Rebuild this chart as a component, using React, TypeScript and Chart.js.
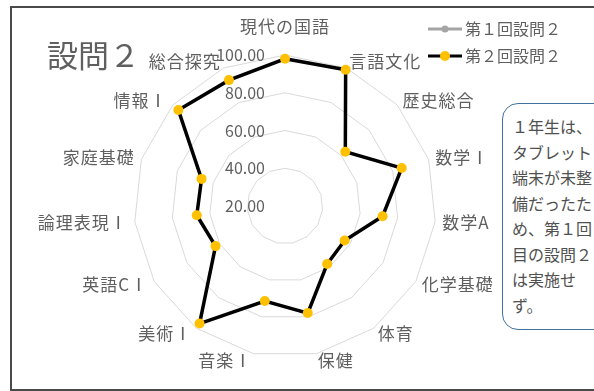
import React, { useEffect, useRef } from "react";
import { Chart, registerables } from "chart.js";

Chart.register(...registerables);

const FONT = '"Noto Sans CJK JP", "Noto Sans", sans-serif';

const categories = [
  "現代の国語",
  "言語文化",
  "歴史総合",
  "数学Ⅰ",
  "数学A",
  "化学基礎",
  "体育",
  "保健",
  "音楽Ⅰ",
  "美術Ⅰ",
  "英語CⅠ",
  "論理表現Ⅰ",
  "家庭基礎",
  "情報Ⅰ",
  "総合探究",
];

const series1Name = "第１回設問２";
const series2Name = "第２回設問２";

const series1: (number | null)[] = [
  null, null, null, null, null, null, null, null, null, null, null, null, null, null, null,
];
const series2: number[] = [98, 99, 63, 85, 72, 56.5, 58, 78, 71.5, 97, 62.5, 67, 66.5, 96, 93];

const tickValues = [20, 40, 60, 80, 100];

const titleText = "設問２";
const noteLines = [
  "１年生は、",
  "タブレット",
  "端末が未整",
  "備だったた",
  "め、第１回",
  "目の設問２",
  "は実施せ",
  "ず。",
];

const GRAY_TEXT = "#5f5f5f";
const S1_COLOR = "#A5A5A5";
const S2_LINE = "#000000";
const S2_POINT = "#FFC000";

const labelPlugin = {
  id: "customLabels",
  beforeDatasetsDraw(chart: any) {
    const ctx = chart.ctx;
    const scale = chart.scales.r;
    ctx.save();
    ctx.font = `16px ${FONT}`;
    ctx.fillStyle = GRAY_TEXT;
    ctx.textAlign = "right";
    ctx.textBaseline = "middle";
    tickValues.forEach((v) => {
      const d = scale.getDistanceFromCenterForValue(v);
      ctx.fillText(v.toFixed(2), scale.xCenter - 20, scale.yCenter - d);
    });
    ctx.restore();
  },
  afterDraw(chart: any) {
    const ctx = chart.ctx;
    const scale = chart.scales.r;
    ctx.save();
    // category labels
    ctx.font = `17px ${FONT}`;
    try {
      (ctx as any).letterSpacing = "1px";
    } catch (e) {}
    ctx.fillStyle = GRAY_TEXT;
    ctx.textBaseline = "middle";
    categories.forEach((c, i) => {
      const extra = i === 0 ? 28 : 7;
      const p = scale.getPointPosition(i, scale.drawingArea + extra);
      const dx = p.x - scale.xCenter;
      if (Math.abs(dx) < 1) ctx.textAlign = "center";
      else if (dx > 0) ctx.textAlign = "left";
      else ctx.textAlign = "right";
      ctx.fillText(c, p.x, p.y);
    });
    try {
      (ctx as any).letterSpacing = "0px";
    } catch (e) {}
    // legend
    const items = [
      { name: series1Name, line: S1_COLOR, point: S1_COLOR, r: 3.5, y: 29 },
      { name: series2Name, line: S2_LINE, point: S2_POINT, r: 5, y: 56 },
    ];
    ctx.font = `16px ${FONT}`;
    ctx.textAlign = "left";
    items.forEach((it) => {
      ctx.strokeStyle = it.line;
      ctx.lineWidth = 3;
      ctx.beginPath();
      ctx.moveTo(428, it.y);
      ctx.lineTo(462, it.y);
      ctx.stroke();
      ctx.fillStyle = it.point;
      ctx.beginPath();
      ctx.arc(445, it.y, it.r, 0, Math.PI * 2);
      ctx.fill();
      ctx.fillStyle = GRAY_TEXT;
      ctx.fillText(it.name, 465, it.y);
    });
    ctx.restore();
  },
};

export default function App() {
  const ref = useRef<HTMLCanvasElement>(null);

  useEffect(() => {
    const chart = new Chart(ref.current as HTMLCanvasElement, {
      type: "radar",
      data: {
        labels: categories,
        datasets: [
          {
            label: series1Name,
            data: series1,
            borderColor: S1_COLOR,
            backgroundColor: S1_COLOR,
            pointBackgroundColor: S1_COLOR,
            pointBorderColor: S1_COLOR,
            borderWidth: 3,
            pointRadius: 4,
            fill: false,
          },
          {
            label: series2Name,
            data: series2,
            borderColor: S2_LINE,
            backgroundColor: S2_POINT,
            pointBackgroundColor: S2_POINT,
            pointBorderColor: S2_POINT,
            borderWidth: 3.5,
            pointRadius: 5,
            pointBorderWidth: 0,
            fill: false,
          },
        ],
      } as any,
      options: {
        responsive: false,
        animation: false,
        devicePixelRatio: 1,
        layout: { padding: { left: 134, right: 158, top: 55, bottom: 34 } },
        plugins: {
          legend: { display: false },
          tooltip: { enabled: false },
        },
        elements: { line: { tension: 0 } },
        scales: {
          r: {
            min: 20,
            max: 100,
            ticks: { display: false, stepSize: 20 },
            pointLabels: { display: false },
            angleLines: { display: false },
            grid: { color: "#D9D9D9", lineWidth: 1, circular: false },
          },
        },
      } as any,
      plugins: [labelPlugin],
    });
    return () => chart.destroy();
  }, []);

  return (
    <div
      style={{
        position: "fixed",
        left: 0,
        top: 0,
        width: 594,
        height: 391,
        overflow: "hidden",
        background: "#ffffff",
        fontFamily: FONT,
      }}
    >
      <div
        style={{
          position: "absolute",
          left: 10,
          top: 6,
          width: 620,
          height: 385,
          boxSizing: "border-box",
          border: "2px solid #4a4a4a",
        }}
      />
      <canvas
        ref={ref}
        width={594}
        height={391}
        style={{ position: "absolute", left: 0, top: 0, width: 594, height: 391 }}
      />
      <div
        style={{
          position: "absolute",
          left: 47,
          top: 38,
          fontSize: 31,
          lineHeight: "31px",
          color: GRAY_TEXT,
          whiteSpace: "pre",
        }}
      >
        {titleText}
      </div>
      <div
        style={{
          position: "absolute",
          left: 502,
          top: 103,
          width: 112,
          height: 227,
          boxSizing: "border-box",
          border: "1.5px solid #41719C",
          borderRadius: 16,
          background: "#ffffff",
          paddingLeft: 9,
          paddingTop: 10,
          fontSize: 16,
          color: "#505050",
          whiteSpace: "pre",
        }}
      >
        {noteLines.map((l, i) => (
          <div key={i} style={{ height: 25.5, lineHeight: "25.5px" }}>
            {l}
          </div>
        ))}
      </div>
    </div>
  );
}
